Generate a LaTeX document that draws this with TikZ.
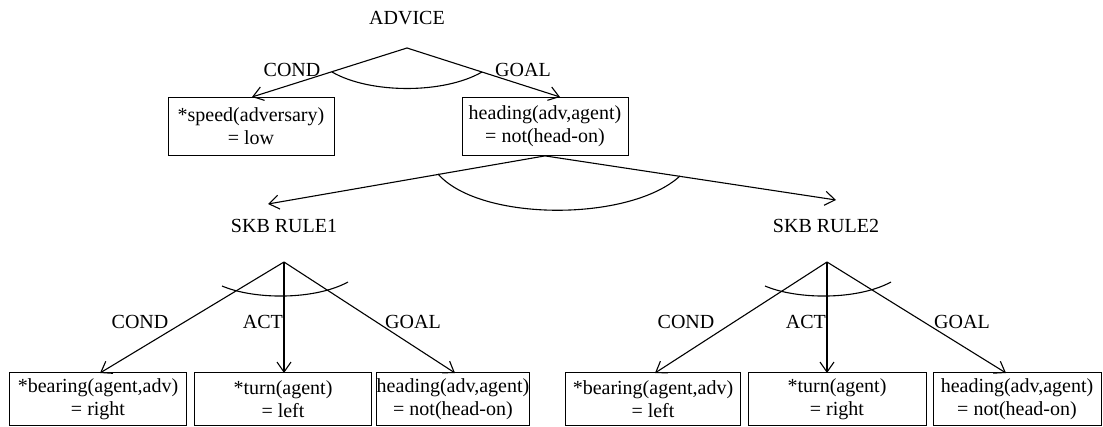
\documentclass[tikz,border=0pt]{standalone}
\usepackage{fontspec}
\setmainfont{Liberation Serif}
\usetikzlibrary{arrows.meta}
\tikzset{
    box/.style={draw,thick,align=center,inner sep=0pt,minimum height=53pt,font=\fontsize{20}{23}\selectfont},
    lbl/.style={inner sep=0pt,font=\fontsize{20}{23}\selectfont}
}
\begin{document}
\begin{tikzpicture}[x=1pt,y=-1pt,line width=1.1pt,>={Straight Barb[length=10pt,width=14pt]}]
            \useasboundingbox (0,0) rectangle (1103,427);
            % top level
            \node[lbl] at (407,18)(advice){ADVICE};
            \coordinate (top) at (407,48);
            \node[box,minimum width=166pt,minimum height=58pt] at (251,126.5)(speed){*speed(adversary)\\= low};
            \node[box,minimum width=166pt,minimum height=58pt] at (545,126.5)(head){heading(adv,agent)\\= not(head-on)};
            \coordinate (speedin) at (252,97);
            \coordinate (headin) at (560,97);
            \path[draw,->] (top) -- (speedin);
            \path[draw,->] (top) -- (headin);
            \node[lbl] at (292,70)(cond){COND};
            \node[lbl] at (523,70)(goal){GOAL};
            \draw (332,72) .. controls (370,94) and (444,94) .. (482,72);
            % two rules
            \node[lbl] at (284,226)(rulea){SKB RULE1};
            \node[lbl] at (826,226)(ruleb){SKB RULE2};
            \coordinate (rulein1) at (268,204);
            \coordinate (rulein2) at (836,200);
            \path[draw,->] (head.south) -- (rulein1);
            \path[draw,->] (head.south) -- (rulein2);
            \draw (438,174) .. controls (480,222) and (630,222) .. (680,176);
            % rule bodies
            \foreach \n/\ax/\lx/\rx in {1/284/140/413,2/827/686/962}{
                \coordinate (apex\n) at (\ax,262);
                \node[lbl] at (\lx,322)(cond\n){COND};
                \node[lbl,anchor=east] at (\ax pt-0.6pt,322)(act\n){ACT};
                \node[lbl] at (\rx,322)(goal\n){GOAL};
                \draw[xshift=\ax pt - 284pt] (222,286) .. controls (255,300) and (315,300) .. (348,282);
            }
            \node[box,minimum width=177pt] at (98,399)(bear1){*bearing(agent,adv)\\= right};
            \node[box,minimum width=177pt] at (283,399)(turn1){*turn(agent)\\= left};
            \node[box,minimum width=150pt] at (453,399)(headb1){heading(adv,agent)\\= not(head-on)};
            \node[box,minimum width=175pt] at (653,399)(bear2){*bearing(agent,adv)\\= left};
            \node[box,minimum width=178pt] at (837,399)(turn2){*turn(agent)\\= right};
            \node[box,minimum width=168pt] at (1017,399)(headb2){heading(adv,agent)\\= not(head-on)};
            \coordinate (in1a) at (100,373);
            \coordinate (in1b) at (284,373);
            \coordinate (in1c) at (455,373);
            \coordinate (in2a) at (655,373);
            \coordinate (in2b) at (827,373);
            \coordinate (in2c) at (1006,373);
            \foreach \n in {1,2}{
                \path[draw,->] (apex\n) -- (in\n a);
                \path[draw,->] (apex\n) -- (in\n b);
                \path[draw,->] (apex\n) -- (in\n c);
            }
        \end{tikzpicture}
\end{document}
